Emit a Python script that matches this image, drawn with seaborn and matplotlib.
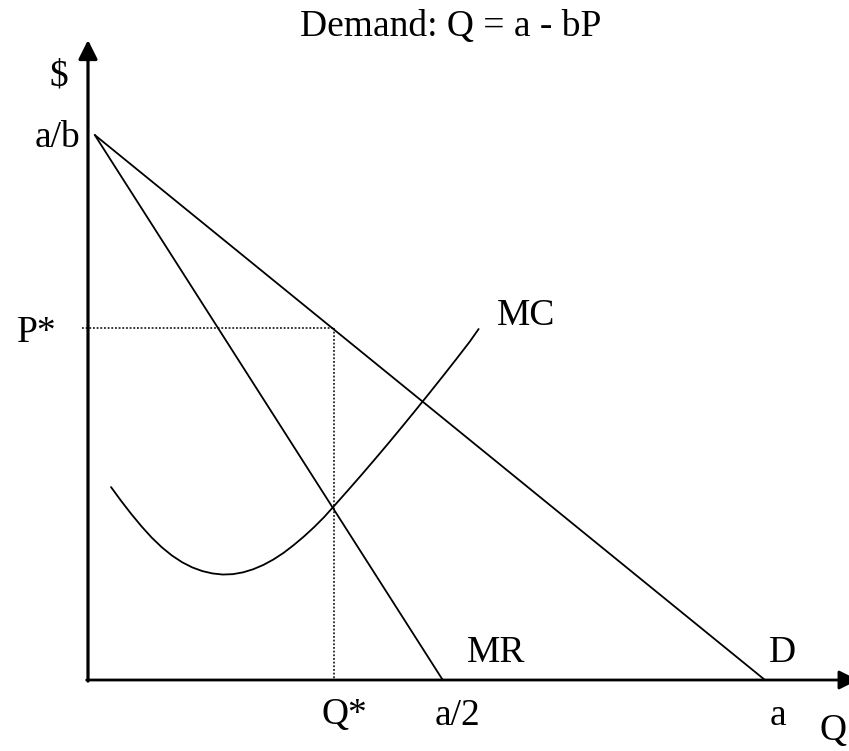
import matplotlib
matplotlib.use('Agg')
import matplotlib.pyplot as plt
import seaborn as sns

# model parameters (a = 10, b = 1 so a/b = 10)
a = 10.0
b = 1.0

# demand and marginal revenue, as drawn
demand_q = [0.1, 10.0]
demand_p = [10.0, 0.0]
mr_q = [0.1, 5.24]
mr_p = [10.0, 0.0]

# monopoly optimum
q_star = 3.64
p_star = 6.46

# marginal cost curve
mc_q = [0.34, 0.49, 0.64, 0.79, 0.94, 1.09, 1.24, 1.39, 1.54, 1.69,
        1.84, 1.99, 2.14, 2.29, 2.44, 2.59, 2.74, 2.89, 3.04, 3.19,
        3.34, 3.49, 3.64, 3.84, 4.04, 4.24, 4.44, 4.64, 4.84, 5.04,
        5.24, 5.44, 5.64, 5.77]
mc_p = [3.54, 3.285, 3.045, 2.82, 2.614, 2.435, 2.284, 2.161, 2.066, 1.998,
        1.955, 1.935, 1.942, 1.975, 2.032, 2.111, 2.212, 2.334, 2.477, 2.634,
        2.805, 2.992, 3.20, 3.48, 3.764, 4.054, 4.348, 4.648, 4.952, 5.26,
        5.572, 5.888, 6.21, 6.44]

sns.set_style('white')
plt.rcParams['font.family'] = ['Liberation Serif', 'DejaVu Serif']

W, H = 849, 751
fig = plt.figure(figsize=(W / 100, H / 100), dpi=100)
ax = fig.add_axes([0, 0, 1, 1])

# pixel layout of the diagram
ox, oy = 88, 680
px_q, px_p = 67.7, 54.5
ax.set_xlim(-ox / px_q, (W - ox) / px_q)
ax.set_ylim(-(H - oy) / px_p, oy / px_p)
ax.axis('off')

# axes with arrow heads
arrow = dict(arrowstyle='-|>,head_length=1,head_width=0.5', mutation_scale=11.5,
             color='black', shrinkA=0, shrinkB=0)
ax.annotate('', xy=(0, (oy - 40) / px_p), xytext=(0, -0.02),
            arrowprops=dict(arrow, lw=2.3), annotation_clip=False)
ax.annotate('', xy=((858 - ox) / px_q, 0), xytext=(-0.02, 0),
            arrowprops=dict(arrow, lw=2.0), annotation_clip=False)

# curves
sns.lineplot(x=demand_q, y=demand_p, color='black', lw=1.3, ax=ax, estimator=None)
sns.lineplot(x=mr_q, y=mr_p, color='black', lw=1.3, ax=ax, estimator=None)
sns.lineplot(x=mc_q, y=mc_p, color='black', lw=1.3, ax=ax, estimator=None, sort=False)

# dotted guides to P* and Q*
ax.plot([-0.09, q_star], [p_star, p_star], color='black', lw=1.1, ls=(0, (1.2, 1.2)))
ax.plot([q_star, q_star], [p_star, 0], color='black', lw=1.1, ls=(0, (1.2, 1.2)))

# labels (pixel positions, baseline aligned)
fs = 27
labels = [
    ('Demand: Q = a - bP', 451, 36),
    ('$', 59, 86),
    ('a/b', 57, 147),
    ('P*', 37, 342),
    ('MC', 526, 325),
    ('MR', 496, 662),
    ('D', 782, 662),
    ('Q*', 344, 724),
    ('a/2', 457, 725),
    ('a', 778, 725),
    ('Q', 833, 740),
]
for txt, x, y in labels:
    fig.text(x / W, 1 - y / H, txt, fontsize=fs, color='black',
             ha='center', va='baseline')

fig.savefig('out.png', dpi=100)
